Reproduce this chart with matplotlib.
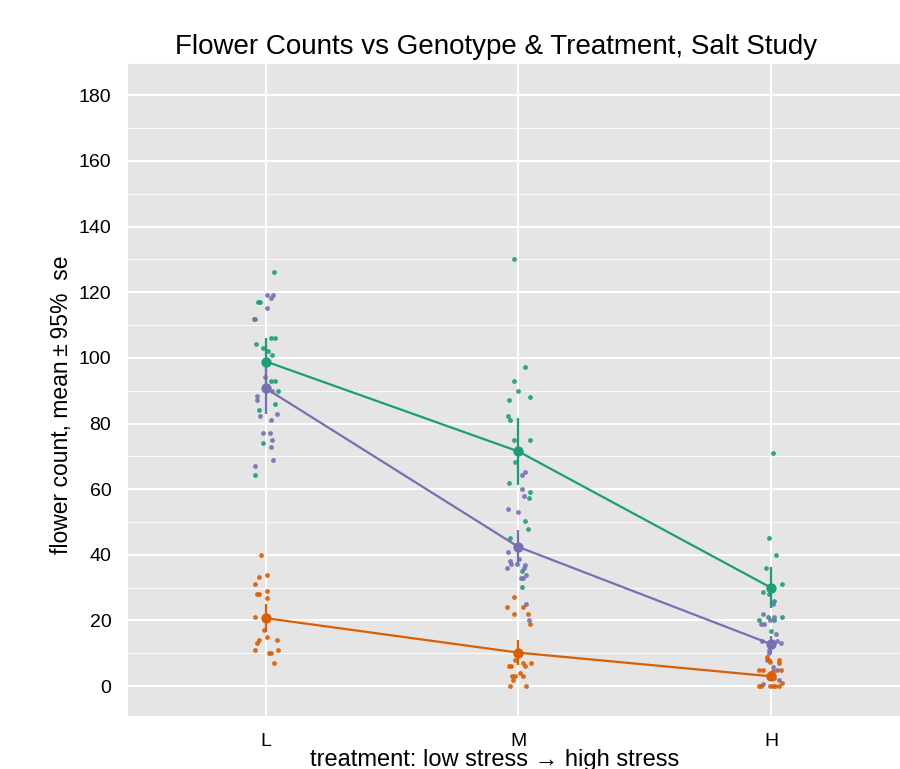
import matplotlib
matplotlib.use("Agg")
import matplotlib.pyplot as plt
import numpy as np

plt.rcParams['font.family'] = ['Liberation Sans', 'DejaVu Sans']

treatments = ["L", "M", "H"]
genotypes = ["green", "purple", "orange"]
colors = {"green": "#1B9E77", "purple": "#7570B3", "orange": "#D95F02"}

# group means and 95% half-widths, per treatment L, M, H
means = {
    "green":  [98.9, 71.5, 30.0],
    "purple": [90.7, 42.4, 12.8],
    "orange": [20.7, 10.2, 3.0],
}
ci = {
    "green":  [7.2, 10.3, 6.2],
    "purple": [7.8, 5.2, 2.6],
    "orange": [4.2, 3.8, 1.5],
}

# individual observations: (x offset from treatment, value)
green_L = [(0.033, 126.2), (-0.033, 117), (-0.024, 117), (-0.049, 112), (0.02, 106), (0.034, 106),
           (-0.04, 104.3), (-0.012, 103), (0.007, 102), (0.024, 101), (0.02, 93), (0.034, 93),
           (0.046, 90), (0.034, 86), (-0.026, 84.2), (-0.013, 74.2), (-0.045, 64.2)]
purple_L = [(0.004, 119.3), (0.029, 119.3), (0.018, 118.3), (0.004, 115.2), (-0.042, 112), (-0.005, 94.3),
            (0.024, 90), (-0.034, 88.3), (-0.034, 87.2), (0.044, 83), (-0.025, 82.2), (0.02, 81.2),
            (-0.012, 77.2), (0.015, 77.2), (0.024, 75.1), (0.021, 73), (0.029, 69), (-0.045, 67.2)]
orange_L = [(-0.021, 40.1), (0.005, 34), (-0.026, 33.1), (-0.044, 31.1), (-0.034, 28), (-0.028, 28),
            (0.003, 28.9), (0.005, 27), (-0.045, 21), (-0.009, 17), (0.003, 14.9), (0.042, 14),
            (-0.028, 14), (-0.036, 13), (-0.042, 10.9), (0.048, 10.9), (0.012, 10), (0.021, 10), (0.033, 7)]
green_M = [(-0.016, 130.1), (0.024, 97.3), (-0.017, 93), (-0.001, 90), (-0.036, 87.3), (0.044, 88.2),
           (-0.041, 82.2), (-0.032, 81.2), (-0.018, 75.1), (0.045, 75.1), (-0.013, 68.2), (-0.037, 62),
           (0.045, 59), (0.04, 57.2), (0.024, 50.2), (0.037, 47.9), (-0.033, 45), (0.012, 35), (0.012, 30.1)]
purple_M = [(0.013, 64.2), (0.025, 65.1), (0.013, 60.2), (0.022, 58), (-0.041, 54.1), (-0.001, 52.9),
            (-0.041, 41), (0.003, 38.8), (-0.033, 38), (-0.028, 37.1), (-0.004, 37.1), (0.026, 37),
            (-0.046, 35.9), (0.022, 35.9), (0.029, 34), (0.009, 33), (0.017, 33), (0.028, 24.9), (0.041, 20)]
orange_M = [(-0.018, 27.1), (-0.044, 24), (0.016, 24), (-0.017, 21.9), (0.037, 21.9), (0.046, 18.9),
            (-0.015, 7.9), (0.018, 7.1), (0.05, 7.1), (-0.037, 6.1), (-0.029, 6.1), (0.026, 6.1),
            (0.005, 4), (-0.026, 3), (-0.013, 3), (0.016, 3), (-0.021, 1.8), (-0.034, 0), (0.03, 0)]
green_H = [(0.007, 71.1), (-0.009, 45), (0.018, 40.1), (-0.02, 35.9), (0.044, 31), (-0.033, 28.8),
           (-0.009, 28), (0.012, 25.8), (-0.013, 21), (0.044, 21), (-0.048, 20), (0.012, 20), (0.0, 16.9)]
purple_H = [(0.007, 24.9), (-0.032, 22), (0.011, 21), (-0.003, 20), (-0.038, 19), (-0.026, 19),
            (0.021, 15.8), (0.025, 13.8), (-0.036, 13.8), (0.038, 13.1), (-0.009, 10.9), (-0.007, 10.1),
            (-0.015, 8.1), (0.007, 5.9), (0.025, 5), (0.032, 1.8), (-0.032, 0.8)]
orange_H = [(-0.017, 8.9), (-0.009, 8.1), (-0.005, 7.4), (0.033, 8.1), (0.03, 7), (-0.049, 5),
            (-0.032, 5), (0.04, 5), (0.008, 4.6), (-0.009, 2.4), (0.011, 2.4), (0.044, 1),
            (-0.046, 0), (-0.038, 0), (-0.005, 0), (0.007, 0), (0.017, 0), (0.033, 0)]

points = {
    "green": [green_L, green_M, green_H],
    "purple": [purple_L, purple_M, purple_H],
    "orange": [orange_L, orange_M, orange_H],
}

fig = plt.figure(figsize=(9, 7.69), dpi=100)
ax = fig.add_axes([128/900, (769-716)/769, (900-128)/900, (716-62.5)/769])
ax.set_facecolor("#E5E5E5")
for s in ax.spines.values():
    s.set_visible(False)

xpos = np.arange(1, len(treatments) + 1)

# points
for g in genotypes:
    for i, grp in enumerate(points[g]):
        dx = np.array([p[0] for p in grp])
        vy = np.array([p[1] for p in grp])
        ax.scatter(xpos[i] + dx, vy, s=12, color=colors[g], alpha=0.9, linewidths=0, zorder=3)

# mean lines, error bars, mean markers
for g in genotypes:
    m = np.array(means[g])
    e = np.array(ci[g])
    ax.plot(xpos, m, color=colors[g], lw=1.6, zorder=4)
    ax.vlines(xpos, m - e, m + e, color=colors[g], lw=1.6, zorder=4)
    ax.scatter(xpos, m, s=55, color=colors[g], linewidths=0, zorder=5)

ax.set_xlim(0.4535, 3.511)
ax.set_ylim(-9.1, 189.8)
ax.set_xticks(xpos)
ax.set_xticklabels(treatments)
ax.set_yticks(np.arange(0, 181, 20))
ax.set_yticks(np.arange(10, 191, 20), minor=True)
ax.grid(which="major", color="white", lw=1.4)
ax.grid(which="minor", axis="y", color="white", lw=0.6)
ax.set_axisbelow(True)
ax.tick_params(axis="both", which="both", length=0, labelsize=14, colors="black")
ax.tick_params(axis="x", pad=12)
ax.tick_params(axis="y", pad=12)

ax.set_ylabel("flower count, mean\u2009\u00b1\u200995%  se", fontsize=16.5)
ax.yaxis.set_label_coords((62 - 128) / 772, (716 - 405) / 653.5)
ax.set_xlabel("treatment: low stress \u2192 high stress", fontsize=17)
ax.xaxis.set_label_coords((495 - 128) / 772, -(760 - 716) / 653.5)
ax.yaxis.label.set_va("center")
ax.xaxis.label.set_va("center")
fig.text(496/900, 1 - 47/769, "Flower Counts vs Genotype & Treatment, Salt Study",
         ha="center", va="center", fontsize=20)

fig.savefig("out.png", dpi=100)
